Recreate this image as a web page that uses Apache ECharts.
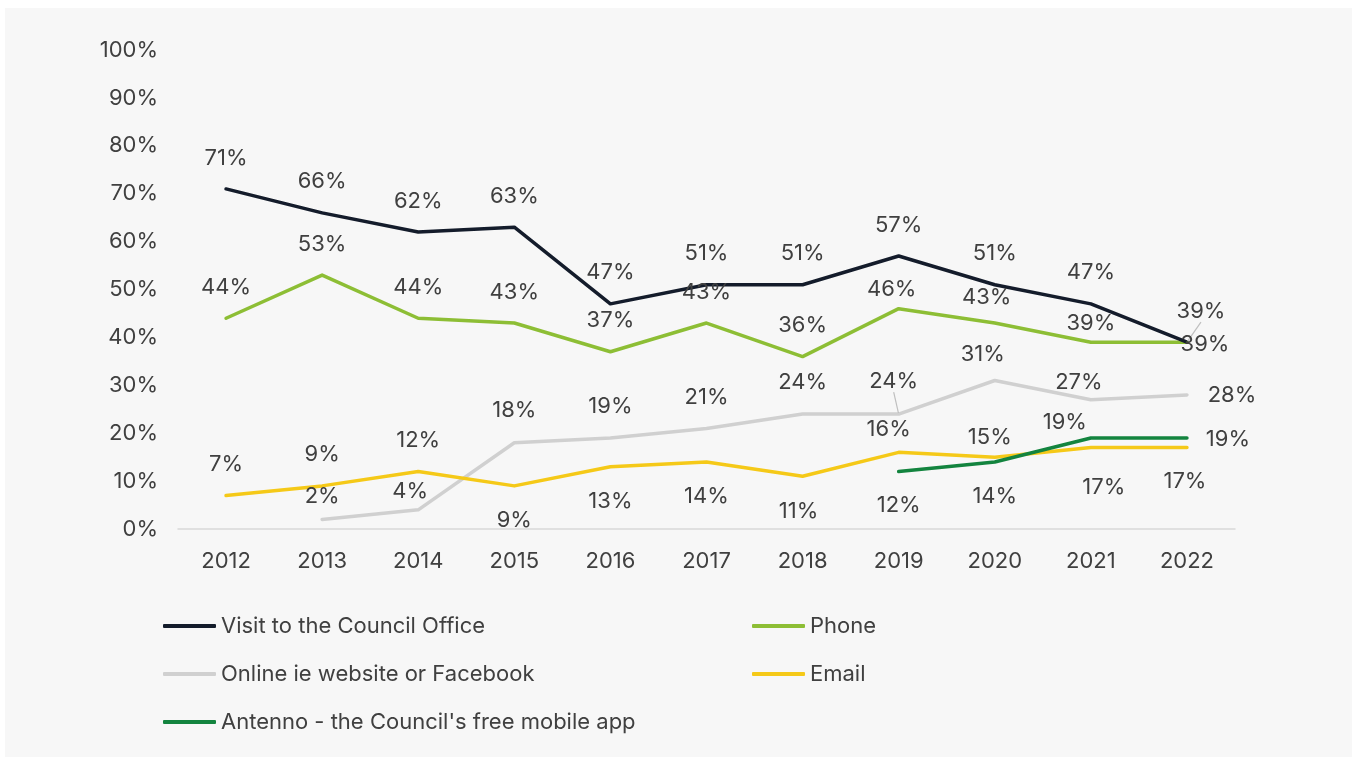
<!DOCTYPE html>
<html>
<head>
<meta charset="utf-8">
<script src="https://cdn.jsdelivr.net/npm/echarts@6/dist/echarts.min.js"></script>
<style>
  html, body { margin: 0; padding: 0; background: #ffffff; }
  #chart { width: 1354px; height: 760px; }
</style>
</head>
<body>
<div id="chart"></div>
<script>
// Survey years and share of residents using each contact channel (%)
const years = ['2012', '2013', '2014', '2015', '2016', '2017', '2018', '2019', '2020', '2021', '2022'];
const visitOffice = [71, 66, 62, 63, 47, 51, 51, 57, 51, 47, 39];
const phone = [44, 53, 44, 43, 37, 43, 36, 46, 43, 39, 39];
const online = [null, 2, 4, 18, 19, 21, 24, 24, 31, 27, 28];
const email = [7, 9, 12, 9, 13, 14, 11, 16, 15, 17, 17];
const antenno = [null, null, null, null, null, null, null, 12, 14, 19, 19];

const seriesNames = [
  'Visit to the Council Office',
  'Phone',
  'Online ie website or Facebook',
  'Email',
  "Antenno - the Council's free mobile app"
];

// Where each value label sits relative to its point: [dx, dy] in px
const labelPlacement = {
  visit:  [[0,-31],[0,-31],[0,-31],[0,-31],[0,-31],[0,-31],[0,-31],[0,-31],[0,-31],[0,-31],[14,-31]],
  phone:  [[0,-31],[0,-31],[0,-31],[0,-31],[0,-31],[0,-31],[0,-31],[-7,-19],[-8,-26],[0,-19],[18,2]],
  online: [null,[0,-23],[-8,-18],[0,-32],[0,-32],[0,-31],[0,-32],[-5,-33],[-12,-26],[-12,-17],[45,1]],
  email:  [[0,-31],[0,-31],[0,-31],[0,35],[0,35],[0,34],[-4,35],[-10,-23],[-5,-20],[13,40],[-2,34]],
  antenno:[null,null,null,null,null,null,null,[0,34],[0,34],[-26,-16],[41,1]]
};
// Labels that keep a short guide line back to their point
const guided = { visit: [10], online: [7] };

const textColor = '#404040';
const fontFamily = 'Inter, "Noto Sans", sans-serif';
const fontSize = 22;

function buildSeries(key, name, values, color) {
  const guides = guided[key] || [];
  return {
    name: name,
    type: 'line',
    data: values.map(function (v, i) {
      if (v === null) return null;
      const item = { value: v };
      if (guides.indexOf(i) >= 0) item.labelLine = { show: true };
      return item;
    }),
    symbol: 'circle',
    symbolSize: 2,
    showSymbol: true,
    connectNulls: false,
    lineStyle: { color: color, width: 3.5, cap: 'round', join: 'round' },
    itemStyle: { color: color },
    emphasis: { disabled: true },
    label: {
      show: true,
      position: 'inside',
      align: 'center',
      verticalAlign: 'middle',
      formatter: '{c}%',
      color: textColor,
      fontSize: fontSize,
      fontFamily: fontFamily
    },
    labelLine: { show: false, lineStyle: { color: '#bfbfbf', width: 1.2 }, length2: 0 },
    labelLayout: function (params) {
      const p = labelPlacement[key][params.dataIndex];
      return p ? { dx: p[0], dy: p[1] } : {};
    },
    z: 2
  };
}

const chart = echarts.init(document.getElementById('chart'), null, { renderer: 'canvas' });

const legendText = { color: textColor, fontSize: fontSize, fontFamily: fontFamily, lineHeight: 24 };

chart.setOption({
  backgroundColor: '#ffffff',
  animation: false,
  graphic: [{
    type: 'rect',
    silent: true,
    z: -10,
    shape: { x: 5, y: 8, width: 1347, height: 749 },
    style: { fill: '#f7f7f7' }
  }],
  grid: { left: 178, right: 119, top: 50, bottom: 231, containLabel: false },
  legend: [
    {
      orient: 'vertical',
      left: 163,
      top: 614,
      padding: 0,
      itemGap: 24,
      itemWidth: 53,
      itemHeight: 4,
      icon: 'roundRect',
      textStyle: legendText,
      data: [seriesNames[0], seriesNames[2], seriesNames[4]],
      selectedMode: false
    },
    {
      orient: 'vertical',
      left: 752,
      top: 614,
      padding: 0,
      itemGap: 24,
      itemWidth: 53,
      itemHeight: 4,
      icon: 'roundRect',
      textStyle: legendText,
      data: [seriesNames[1], seriesNames[3]],
      selectedMode: false
    }
  ],
  xAxis: {
    type: 'category',
    data: years,
    boundaryGap: true,
    axisLine: { show: true, lineStyle: { color: '#d9d9d9', width: 1.5 } },
    axisTick: { show: false },
    axisLabel: { color: textColor, fontSize: fontSize, fontFamily: fontFamily, margin: 21 },
    splitLine: { show: false }
  },
  yAxis: {
    type: 'value',
    min: 0,
    max: 100,
    interval: 10,
    axisLine: { show: false },
    axisTick: { show: false },
    splitLine: { show: false },
    axisLabel: { color: textColor, fontSize: fontSize, fontFamily: fontFamily, margin: 20, formatter: '{value}%' }
  },
  series: [
    buildSeries('online', seriesNames[2], online, '#d0d0d0'),
    buildSeries('email', seriesNames[3], email, '#f5c918'),
    buildSeries('antenno', seriesNames[4], antenno, '#13843f'),
    buildSeries('phone', seriesNames[1], phone, '#8dbe35'),
    buildSeries('visit', seriesNames[0], visitOffice, '#141c2b')
  ]
});
</script>
</body>
</html>
